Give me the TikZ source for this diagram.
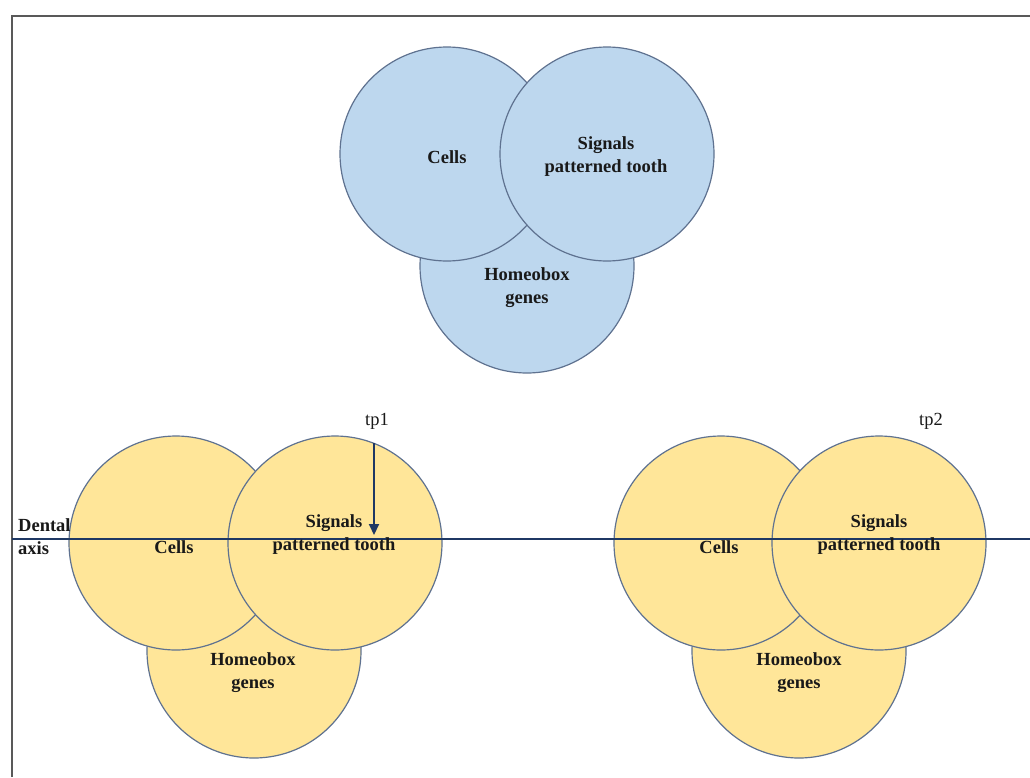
\documentclass[tikz,border=0pt]{standalone}
\usepackage{fontspec}
\setmainfont{Liberation Serif}
\usetikzlibrary{arrows.meta}
\definecolor{blueFill}{HTML}{BDD7EE}
\definecolor{yelFill}{HTML}{FFE699}
\definecolor{ringCol}{HTML}{5F7290}
\definecolor{axisCol}{HTML}{1F3864}
\definecolor{frameCol}{HTML}{595959}
\tikzset{
  ring/.style={circle, draw=ringCol, line width=1.2pt, inner sep=0pt, minimum size=214pt},
  bluering/.style={ring, fill=blueFill},
  yelring/.style={ring, fill=yelFill},
  lbl/.style={font=\fontsize{18.5}{23}\selectfont\bfseries, align=center, inner sep=0pt, text=black!90},
  tplbl/.style={font=\fontsize{18.5}{22}\selectfont, inner sep=0pt, text=black!90},
  axis/.style={draw=axisCol, line width=2pt},
}
\begin{document}
\begin{tikzpicture}[x=1pt,y=-1pt]
\useasboundingbox (0,0) rectangle (1030,777);
\fill[white] (0,0) rectangle (1030,777);
% frame (only top and left visible)
\coordinate (fTL) at (12,16);
\coordinate (fTR) at (1030,16);
\coordinate (fBL) at (12,777);
\draw[frameCol, line width=1.6pt] (fBL) -- (fTL) -- (fTR);

% top group (blue)
\node[bluering] (tH) at (527,266) {};
\node[bluering] (tC) at (447,154) {};
\node[bluering] (tS) at (607,154) {};
\node[lbl] (tCl) at (447,157) {Cells};
\node[lbl] (tSl) at (606,157) {Signals\\patterned tooth};
\node[lbl] (tHl) at (527,288) {Homeobox\\genes};

% bottom-left group (yellow)
\node[yelring] (lH) at (254,651) {};
\node[yelring] (lC) at (176,543) {};
\node[yelring] (lS) at (335,543) {};

% bottom-right group (yellow)
\node[yelring] (rH) at (799,651) {};
\node[yelring] (rC) at (721,543) {};
\node[yelring] (rS) at (879,543) {};

% dental axis
\coordinate (axL) at (12,539);
\coordinate (axR) at (1030,539);
\draw[axis] (axL) -- (axR);

\node[lbl] (lCl) at (174,547) {Cells};
\node[lbl] (lSl) at (334,535) {Signals\\patterned tooth};
\node[lbl] (lHl) at (253,673) {Homeobox\\genes};
\node[lbl] (rCl) at (719,547) {Cells};
\node[lbl] (rSl) at (879,535) {Signals\\patterned tooth};
\node[lbl] (rHl) at (799,673) {Homeobox\\genes};

\node[lbl, align=left, anchor=west] (dax) at (18,537) {Dental\\axis};

% time points
\node[tplbl] (tp1) at (377,421) {tp1};
\node[tplbl] (tp2) at (931,421) {tp2};
\coordinate (tp1s) at (374,443);
\coordinate (tp1e) at (374,535);
\draw[axisCol, line width=2pt, -{Triangle[length=11pt,width=10pt]}] (tp1s) -- (tp1e);
\end{tikzpicture}
\end{document}
